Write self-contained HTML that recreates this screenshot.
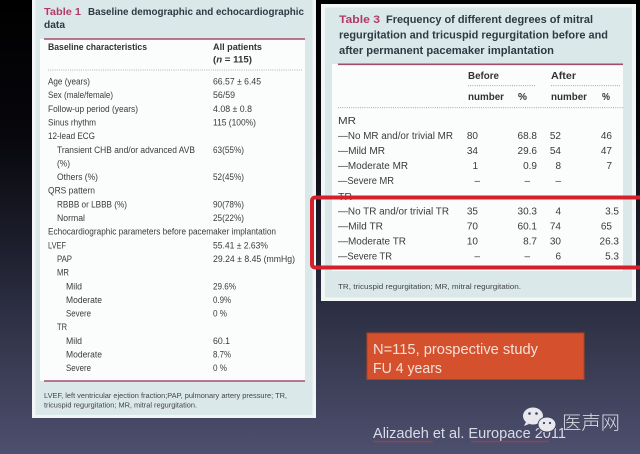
<!DOCTYPE html>
<html>
<head>
<meta charset="utf-8">
<style>
  html,body{margin:0;padding:0;}
  body{width:640px;height:454px;overflow:hidden;
    background:linear-gradient(to bottom,#000 0%,#07070c 30%,#1e1f2e 55%,#34364c 75%,#4d506e 100%);}
  svg{display:block;}
  .t{font-family:"Liberation Sans",sans-serif;}
</style>
</head>
<body>
<svg width="640" height="454" viewBox="0 0 640 454" xmlns="http://www.w3.org/2000/svg">
  <!-- LEFT PANEL -->
  <rect x="32" y="-2" width="284" height="420" fill="#f2f5f5"/>
  <rect x="35.5" y="-2" width="277" height="417" fill="#dbe8ea"/>
  <rect x="40" y="39" width="265" height="342" fill="#fbfdfd"/>
  <g class="t" font-weight="bold" font-size="10">
    <text x="44" y="15" fill="#b13a68" textLength="37" lengthAdjust="spacingAndGlyphs">Table 1</text>
    <text x="88" y="15" fill="#2e3a40" textLength="216" lengthAdjust="spacingAndGlyphs">Baseline demographic and echocardiographic</text>
    <text x="44" y="28" fill="#2e3a40" textLength="21" lengthAdjust="spacingAndGlyphs">data</text>
  </g>
  <line x1="44" y1="39" x2="305" y2="39" stroke="#a34d6b" stroke-width="1.6"/>
  <g class="t" font-weight="bold" font-size="9" fill="#333">
    <text x="48" y="50" textLength="99" lengthAdjust="spacingAndGlyphs">Baseline characteristics</text>
    <text x="213" y="50" textLength="49" lengthAdjust="spacingAndGlyphs">All patients</text>
    <text x="213" y="62.5" textLength="39" lengthAdjust="spacingAndGlyphs">(<tspan font-style="italic">n</tspan> = 115)</text>
  </g>
  <line x1="48" y1="70" x2="302" y2="70" stroke="#999" stroke-width="0.8" stroke-dasharray="1,1.2"/>
  <g class="t" font-size="9" fill="#3a3a3a">
    <text x="48" y="84.5" textLength="42" lengthAdjust="spacingAndGlyphs">Age (years)</text>
    <text x="213" y="84.5" textLength="48" lengthAdjust="spacingAndGlyphs">66.57 ± 6.45</text>
    <text x="48" y="98.15" textLength="65" lengthAdjust="spacingAndGlyphs">Sex (male/female)</text>
    <text x="213" y="98.15" textLength="22" lengthAdjust="spacingAndGlyphs">56/59</text>
    <text x="48" y="111.8" textLength="90" lengthAdjust="spacingAndGlyphs">Follow-up period (years)</text>
    <text x="213" y="111.8" textLength="39" lengthAdjust="spacingAndGlyphs">4.08 ± 0.8</text>
    <text x="48" y="125.45" textLength="48" lengthAdjust="spacingAndGlyphs">Sinus rhythm</text>
    <text x="213" y="125.45" textLength="43" lengthAdjust="spacingAndGlyphs">115 (100%)</text>
    <text x="48" y="139.1" textLength="47" lengthAdjust="spacingAndGlyphs">12-lead ECG</text>
    <text x="57" y="152.75" textLength="138" lengthAdjust="spacingAndGlyphs">Transient CHB and/or advanced AVB</text>
    <text x="213" y="152.75" textLength="31" lengthAdjust="spacingAndGlyphs">63(55%)</text>
    <text x="57" y="166.4" textLength="13" lengthAdjust="spacingAndGlyphs">(%)</text>
    <text x="57" y="180.05" textLength="41" lengthAdjust="spacingAndGlyphs">Others (%)</text>
    <text x="213" y="180.05" textLength="31" lengthAdjust="spacingAndGlyphs">52(45%)</text>
    <text x="48" y="193.7" textLength="47" lengthAdjust="spacingAndGlyphs">QRS pattern</text>
    <text x="57" y="207.35" textLength="70" lengthAdjust="spacingAndGlyphs">RBBB or LBBB (%)</text>
    <text x="213" y="207.35" textLength="31" lengthAdjust="spacingAndGlyphs">90(78%)</text>
    <text x="57" y="221" textLength="28" lengthAdjust="spacingAndGlyphs">Normal</text>
    <text x="213" y="221" textLength="31" lengthAdjust="spacingAndGlyphs">25(22%)</text>
    <text x="48" y="234.65" textLength="228" lengthAdjust="spacingAndGlyphs">Echocardiographic parameters before pacemaker implantation</text>
    <text x="48" y="248.3" textLength="18" lengthAdjust="spacingAndGlyphs">LVEF</text>
    <text x="213" y="248.3" textLength="55" lengthAdjust="spacingAndGlyphs">55.41 ± 2.63%</text>
    <text x="57" y="261.95" textLength="15" lengthAdjust="spacingAndGlyphs">PAP</text>
    <text x="213" y="261.95" textLength="82" lengthAdjust="spacingAndGlyphs">29.24 ± 8.45 (mmHg)</text>
    <text x="57" y="275.6" textLength="12" lengthAdjust="spacingAndGlyphs">MR</text>
    <text x="66" y="289.25" textLength="16" lengthAdjust="spacingAndGlyphs">Mild</text>
    <text x="213" y="289.25" textLength="23" lengthAdjust="spacingAndGlyphs">29.6%</text>
    <text x="66" y="302.9" textLength="36" lengthAdjust="spacingAndGlyphs">Moderate</text>
    <text x="213" y="302.9" textLength="18" lengthAdjust="spacingAndGlyphs">0.9%</text>
    <text x="66" y="316.55" textLength="25" lengthAdjust="spacingAndGlyphs">Severe</text>
    <text x="213" y="316.55" textLength="14" lengthAdjust="spacingAndGlyphs">0 %</text>
    <text x="57" y="330.2" textLength="10" lengthAdjust="spacingAndGlyphs">TR</text>
    <text x="66" y="343.85" textLength="16" lengthAdjust="spacingAndGlyphs">Mild</text>
    <text x="213" y="343.85" textLength="17" lengthAdjust="spacingAndGlyphs">60.1</text>
    <text x="66" y="357.5" textLength="36" lengthAdjust="spacingAndGlyphs">Moderate</text>
    <text x="213" y="357.5" textLength="18" lengthAdjust="spacingAndGlyphs">8.7%</text>
    <text x="66" y="371.15" textLength="25" lengthAdjust="spacingAndGlyphs">Severe</text>
    <text x="213" y="371.15" textLength="14" lengthAdjust="spacingAndGlyphs">0 %</text>
  </g>
  <line x1="44" y1="381" x2="305" y2="381" stroke="#a34d6b" stroke-width="1.6"/>
  <g class="t" font-size="7" fill="#444">
    <text x="44" y="398" textLength="243" lengthAdjust="spacingAndGlyphs">LVEF, left ventricular ejection fraction;PAP, pulmonary artery pressure; TR,</text>
    <text x="44" y="407.5" textLength="153" lengthAdjust="spacingAndGlyphs">tricuspid regurgitation; MR, mitral regurgitation.</text>
  </g>

  <!-- RIGHT PANEL -->
  <rect x="321" y="4" width="315" height="297" fill="#f3f6f6"/>
  <rect x="325" y="7.5" width="307" height="290" fill="#dbe8ea"/>
  <rect x="332" y="64" width="291" height="207" fill="#fbfdfd"/>
  <g class="t" font-weight="bold" font-size="11" fill="#2e3a40">
    <text x="339" y="23" fill="#b13a68" textLength="41" lengthAdjust="spacingAndGlyphs">Table 3</text>
    <text x="386" y="23" textLength="207" lengthAdjust="spacingAndGlyphs">Frequency of different degrees of mitral</text>
    <text x="339" y="38.5" textLength="269" lengthAdjust="spacingAndGlyphs">regurgitation and tricuspid regurgitation before and</text>
    <text x="339" y="54" textLength="215" lengthAdjust="spacingAndGlyphs">after permanent pacemaker implantation</text>
  </g>
  <line x1="338" y1="64.3" x2="623" y2="64.3" stroke="#a34d6b" stroke-width="1.6"/>
  <g class="t" font-weight="bold" font-size="10" fill="#333">
    <text x="468" y="79" textLength="31" lengthAdjust="spacingAndGlyphs">Before</text>
    <text x="551" y="79" textLength="25" lengthAdjust="spacingAndGlyphs">After</text>
    <text x="468" y="100" textLength="36" lengthAdjust="spacingAndGlyphs">number</text>
    <text x="518" y="100" textLength="9" lengthAdjust="spacingAndGlyphs">%</text>
    <text x="551" y="100" textLength="36" lengthAdjust="spacingAndGlyphs">number</text>
    <text x="602" y="100" textLength="8" lengthAdjust="spacingAndGlyphs">%</text>
  </g>
  <g stroke="#999" stroke-width="0.8" stroke-dasharray="1,1.2">
    <line x1="468" y1="85.7" x2="536" y2="85.7"/>
    <line x1="551" y1="85.7" x2="620" y2="85.7"/>
    <line x1="338" y1="107.7" x2="623" y2="107.7"/>
  </g>
  <g class="t" font-size="10" fill="#3a3a3a">
    <text x="338" y="124" textLength="18" lengthAdjust="spacingAndGlyphs">MR</text>
    <text x="338" y="139" textLength="115" lengthAdjust="spacingAndGlyphs">—No MR and/or trivial MR</text>
    <text x="338" y="154" textLength="47" lengthAdjust="spacingAndGlyphs">—Mild MR</text>
    <text x="338" y="169" textLength="70" lengthAdjust="spacingAndGlyphs">—Moderate MR</text>
    <text x="338" y="184.2" textLength="56" lengthAdjust="spacingAndGlyphs">—Severe MR</text>
    <text x="338" y="200" textLength="14" lengthAdjust="spacingAndGlyphs">TR</text>
    <text x="338" y="214.3" textLength="111" lengthAdjust="spacingAndGlyphs">—No TR and/or trivial TR</text>
    <text x="338" y="229.3" textLength="45" lengthAdjust="spacingAndGlyphs">—Mild TR</text>
    <text x="338" y="244.3" textLength="68" lengthAdjust="spacingAndGlyphs">—Moderate TR</text>
    <text x="338" y="259.3" textLength="54" lengthAdjust="spacingAndGlyphs">—Severe TR</text>
  </g>
  <g class="t" font-size="10" fill="#3a3a3a" text-anchor="end">
    <text x="478" y="139">80</text><text x="537" y="139">68.8</text><text x="561" y="139">52</text><text x="612" y="139">46</text>
    <text x="478" y="154">34</text><text x="537" y="154">29.6</text><text x="561" y="154">54</text><text x="612" y="154">47</text>
    <text x="478" y="169">1</text><text x="537" y="169">0.9</text><text x="561" y="169">8</text><text x="612" y="169">7</text>
    <text x="480" y="184.2">–</text><text x="530" y="184.2">–</text><text x="561" y="184.2">–</text>
    <text x="478" y="214.3">35</text><text x="537" y="214.3">30.3</text><text x="561" y="214.3">4</text><text x="619" y="214.3">3.5</text>
    <text x="478" y="229.3">70</text><text x="537" y="229.3">60.1</text><text x="561" y="229.3">74</text><text x="612" y="229.3">65</text>
    <text x="478" y="244.3">10</text><text x="537" y="244.3">8.7</text><text x="561" y="244.3">30</text><text x="619" y="244.3">26.3</text>
    <text x="480" y="259.3">–</text><text x="530" y="259.3">–</text><text x="561" y="259.3">6</text><text x="619" y="259.3">5.3</text>
  </g>
  <text class="t" x="338" y="289" font-size="7.5" fill="#444" textLength="183" lengthAdjust="spacingAndGlyphs">TR, tricuspid regurgitation; MR, mitral regurgitation.</text>

  <!-- Red highlight rectangle -->
  <rect x="312" y="197.5" width="340" height="70" rx="3" fill="none" stroke="#d4202a" stroke-width="4"/>

  <!-- Orange box -->
  <rect x="367" y="333" width="217" height="46.5" fill="#d5502d" stroke="#b5401f" stroke-width="1"/>
  <g class="t" font-size="14.5" fill="#f4e2da">
    <text x="373" y="354" textLength="165" lengthAdjust="spacingAndGlyphs">N=115, prospective study</text>
    <text x="373" y="373" textLength="69" lengthAdjust="spacingAndGlyphs">FU 4 years</text>
  </g>

  <!-- Citation -->
  <text class="t" x="373" y="438" font-size="14.5" fill="#dadbe6" textLength="193" lengthAdjust="spacingAndGlyphs">Alizadeh et al. Europace 2011</text>
  <path d="M373 441.5 q1 -1 2 0 t2 0 t2 0 t2 0 t2 0 t2 0 t2 0 t2 0 t2 0 t2 0 t2 0 t2 0 t2 0 t2 0 t2 0 t2 0 t2 0 t2 0 t2 0 t2 0 t2 0 t2 0 t2 0 t2 0 t2 0 t2 0 t2 0 t2 0 t2 0 t2 0" fill="none" stroke="#c8383a" stroke-width="0.8"/>
  <path d="M471 441.5 q1 -1 2 0 t2 0 t2 0 t2 0 t2 0 t2 0 t2 0 t2 0 t2 0 t2 0 t2 0 t2 0 t2 0 t2 0 t2 0 t2 0 t2 0 t2 0 t2 0 t2 0 t2 0 t2 0 t2 0 t2 0 t2 0 t2 0 t2 0 t2 0 t2 0 t2 0 t2 0 t2 0 t2 0 t2 0 t2 0 t2 0 t2 0 t2 0 t2 0" fill="none" stroke="#c8383a" stroke-width="0.8"/>

  <!-- WeChat logo -->
  <ellipse cx="533" cy="416" rx="10" ry="8.5" fill="#e8e8ee"/>
  <path d="M526 422 l-2 4 l5 -2 z" fill="#e8e8ee"/>
  <ellipse cx="547" cy="424.5" rx="9.5" ry="8" fill="#3e4058"/>
  <ellipse cx="547" cy="424.5" rx="8.5" ry="7" fill="#e8e8ee"/>
  <circle cx="529.5" cy="413.5" r="1.3" fill="#3e4058"/>
  <circle cx="536.5" cy="413.5" r="1.3" fill="#3e4058"/>
  <circle cx="544" cy="423" r="1.1" fill="#3e4058"/>
  <circle cx="550" cy="423" r="1.1" fill="#3e4058"/>
  <text x="562" y="429" font-family="'Noto Sans CJK SC',sans-serif" font-weight="300" font-size="19" fill="#d8d9e2" textLength="58" lengthAdjust="spacingAndGlyphs">医声网</text>
</svg>
</body>
</html>
